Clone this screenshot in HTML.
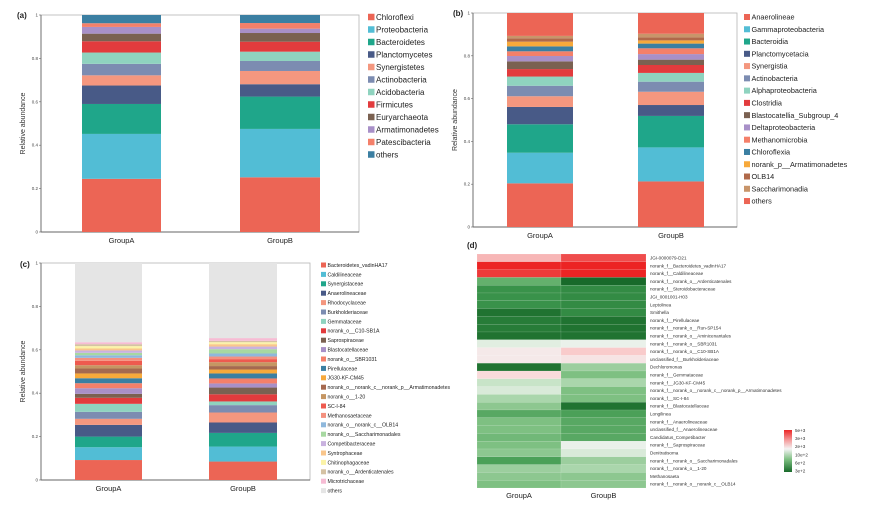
<!DOCTYPE html>
<html><head><meta charset="utf-8"><style>
html,body{margin:0;padding:0;background:#fff;}
svg{display:block;font-family:"Liberation Sans",Arial,sans-serif;}
</style></head><body>
<svg id="fig" width="886" height="507" viewBox="0 0 886 507"></svg>
<script>
// ---------- Panel (a) data ----------
const aCats = ["GroupA","GroupB"];
const aSeries = ["Chloroflexi","Proteobacteria","Bacteroidetes","Planctomycetes","Synergistetes","Actinobacteria","Acidobacteria","Firmicutes","Euryarchaeota","Armatimonadetes","Patescibacteria","others"];
const aValsA = [0.245,0.207,0.138,0.085,0.047,0.053,0.052,0.052,0.035,0.031,0.017,0.038];
const aValsB = [0.252,0.223,0.149,0.057,0.061,0.046,0.043,0.046,0.040,0.020,0.026,0.037];
const aColors = ["#ec6555","#52bdd5","#1fa68a","#485a87","#f4977f","#7c8cb1","#8fd3bf","#e23b3d","#7a6151","#a890c8","#f4806a","#3b7fa2"];
// ---------- Panel (b) data ----------
const bSeries = ["Anaerolineae","Gammaproteobacteria","Bacteroidia","Planctomycetacia","Synergistia","Actinobacteria","Alphaproteobacteria","Clostridia","Blastocatellia_Subgroup_4","Deltaproteobacteria","Methanomicrobia","Chloroflexia","norank_p__Armatimonadetes","OLB14","Saccharimonadia","others"];
const bValsA = [0.204,0.143,0.133,0.081,0.050,0.049,0.043,0.035,0.036,0.025,0.022,0.023,0.022,0.016,0.011,0.107];
const bValsB = [0.213,0.159,0.147,0.051,0.062,0.047,0.041,0.037,0.025,0.026,0.027,0.022,0.015,0.014,0.017,0.097];
const bColors = ["#ec6555","#52bdd5","#1fa68a","#485a87","#f4977f","#7c8cb1","#8fd3bf","#e23b3d","#7a6151","#a890c8","#f4806a","#3b7fa2","#f7a93b","#b0694a","#c8956a","#ec6555"];
// ---------- Panel (c) data ----------
const cSeries = ["Bacteroidetes_vadinHA17","Caldilineaceae","Synergistaceae","Anaerolineaceae","Rhodocyclaceae","Burkholderiaceae","Gemmataceae","norank_o__C10-SB1A","Saprospiraceae","Blastocatellaceae","norank_o__SBR1031","Pirellulaceae","JG30-KF-CM45","norank_o__norank_c__norank_p__Armatimonadetes","norank_o__1-20","SC-I-84","Methanosaetaceae","norank_o__norank_c__OLB14","norank_o__Saccharimonadales","Competibacteraceae","Syntrophaceae","Chitinophagaceae","norank_o__Ardenticatenales","Microtrichaceae","others"];
const cValsA = [0.092,0.059,0.049,0.054,0.028,0.032,0.037,0.028,0.018,0.026,0.023,0.023,0.022,0.023,0.015,0.020,0.014,0.012,0.011,0.011,0.009,0.011,0.009,0.009,0.365];
const cValsB = [0.085,0.069,0.063,0.048,0.046,0.034,0.017,0.033,0.031,0.019,0.023,0.023,0.018,0.016,0.018,0.014,0.012,0.014,0.020,0.012,0.011,0.009,0.006,0.013,0.346];
const cColors = ["#ec6555","#52bdd5","#1fa68a","#485a87","#f4977f","#7c8cb1","#8fd3bf","#e23b3d","#7a6151","#a890c8","#f4806a","#3b7fa2","#f7a93b","#a5694f","#c59663","#ee5a4f","#f4917f","#8fb8dc","#a7d8a1","#c9b2df","#f9c68c","#fbf3a8","#d5c2a3","#f6bcd4","#e5e5e5"];
// ---------- Panel (d) data ----------
const dRows = ["JGI-0000079-D21","norank_f__Bacteroidetes_vadinHA17","norank_f__Caldilineaceae","norank_f__norank_o__Ardenticatenales","norank_f__Steroidobacteraceae","JGI_0001001-H03","Leptolinea","Smithella","norank_f__Pirellulaceae","norank_f__norank_o__Run-SP154","norank_f__norank_o__Aminicenantales","norank_f__norank_o__SBR1031","norank_f__norank_o__C10-SB1A","unclassified_f__Burkholderiaceae","Dechloromonas","norank_f__Gemmataceae","norank_f__JG30-KF-CM45","norank_f__norank_o__norank_c__norank_p__Armatimonadetes","norank_f__SC-I-84","norank_f__Blastocatellaceae","Longilinea","norank_f__Anaerolineaceae","unclassified_f__Anaerolineaceae","Candidatus_Competibacter","norank_f__Saprospiraceae","Denitratisoma","norank_f__norank_o__Saccharimonadales","norank_f__norank_o__1-20","Methanosaeta","norank_f__norank_o__norank_c__OLB14"];
const dValsA = [0.45,1,0.92,-0.6,-0.78,-0.78,-0.78,-0.95,-0.9,-0.9,-0.95,-0.1,0.1,0.1,-0.95,0.25,-0.25,-0.15,-0.35,-0.45,-0.65,-0.5,-0.5,-0.55,-0.5,-0.45,-0.7,-0.4,-0.45,-0.5];
const dValsB = [0.85,1,1,-1,-0.82,-0.82,-0.82,-0.82,-0.95,-0.95,-0.95,-0.05,0.35,0.15,-0.4,-0.5,-0.35,-0.5,-0.5,-0.95,-0.7,-0.65,-0.65,-0.65,-0.05,-0.15,-0.4,-0.35,-0.45,-0.45];
const dTicks = ["5e+3","3e+3","2e+3","10e+2","6e+2","3e+2"];

const svg = document.getElementById('fig');
const NS = "http://www.w3.org/2000/svg";
function mk(tag, attrs, parent){const e=document.createElementNS(NS,tag);for(const k in attrs)e.setAttribute(k,attrs[k]);(parent||svg).appendChild(e);return e;}
function txt(s, attrs, parent){const e=mk('text',attrs,parent);e.textContent=s;return e;}

function stacked(cfg){
  const g = mk('g',{});
  
  
  const y = v => cfg.y0 - v*(cfg.y0-cfg.y1);
  const fr = mk('rect',{x:cfg.x0,y:cfg.y1,width:cfg.xr-cfg.x0,height:cfg.y0-cfg.y1,fill:'none',stroke:'#b5b5b5','stroke-width':0.8},g);
  
  
  const ax = mk('line',{x1:cfg.x0,y1:cfg.y1,x2:cfg.x0,y2:cfg.y0,stroke:'#666','stroke-width':0.9},g);
  
  
  const bx = mk('line',{x1:cfg.x0,y1:cfg.y0,x2:cfg.xr,y2:cfg.y0,stroke:'#666','stroke-width':0.9},g);
  
  
  [0,0.2,0.4,0.6,0.8,1].forEach(t=>{
    mk('line',{x1:cfg.x0-2,y1:y(t),x2:cfg.x0,y2:y(t),stroke:'#666','stroke-width':0.6},g);
    const tl = txt(String(t),{x:cfg.x0-3,y:y(t)+1.5,'font-size':4.5,'text-anchor':'end',fill:'#444'},g);
    
    
  });
  const yl = txt('Relative abundance',{x:0,y:0,'font-size':cfg.ylfs,fill:'#333','text-anchor':'middle',transform:`translate(${cfg.ylx},${(cfg.y0+cfg.y1)/2}) rotate(-90)`},g);
  
  
  const pl = txt(cfg.label,{x:cfg.lx,y:cfg.ly,'font-size':8,'font-weight':'bold',fill:'#222'},g);
  
  
  [cfg.valsA,cfg.valsB].forEach((vals,i)=>{
    let cum=0;
    vals.forEach((v,j)=>{
      const r = mk('rect',{x:cfg.bars[i][0],y:y(cum+v),width:cfg.bars[i][1]-cfg.bars[i][0],height:y(cum)-y(cum+v),fill:cfg.colors[j]},g);
      
      
      cum+=v;
    });
    const gl = txt(aCats[i],{x:(cfg.bars[i][0]+cfg.bars[i][1])/2,y:cfg.gly,'font-size':cfg.glfs,'text-anchor':'middle',fill:'#222'},g);
    
    
  });
  cfg.series.forEach((s,j)=>{
    const yy = cfg.legY + j*cfg.legDy;
    const sq = mk('rect',{x:cfg.legX,y:yy-cfg.sq/2,width:cfg.sq,height:cfg.sq,fill:cfg.colors[j]},g);
    
    
    const lt = txt(s,{x:cfg.legX+cfg.sq+1.5,y:yy+cfg.legFs*0.36,'font-size':cfg.legFs,fill:'#222'},g);
    
    
  });
}

stacked({name:'chart-a-phylum',label:'(a)',lx:17,ly:18,x0:41,xr:359,y0:232,y1:15,bars:[[82,161],[240,320]],
  valsA:aValsA,valsB:aValsB,series:aSeries,colors:aColors,ylfs:7,ylx:25,gly:243,glfs:7.5,
  legX:368,legY:17,legDy:12.5,sq:6.5,legFs:8});
stacked({name:'chart-b-class',label:'(b)',lx:453,ly:16,x0:473,xr:737,y0:227,y1:13,bars:[[507,573],[638,704]],
  valsA:bValsA,valsB:bValsB,series:bSeries,colors:bColors,ylfs:7,ylx:457,gly:238,glfs:7.5,
  legX:744,legY:17,legDy:12.27,sq:6,legFs:7.3});
stacked({name:'chart-c-family',label:'(c)',lx:20,ly:267,x0:41,xr:310,y0:480,y1:263,bars:[[75,142],[209,277]],
  valsA:cValsA,valsB:cValsB,series:cSeries,colors:cColors,ylfs:7,ylx:25,gly:491,glfs:7.5,
  legX:321,legY:265,legDy:9.4,sq:5,legFs:5.2});

// ---------- Heatmap ----------
const gStops = [[0,[242,244,242]],[0.25,[200,228,200]],[0.5,[126,192,130]],[0.75,[62,152,78]],[1,[24,106,42]]];
const rStops = [[0,[242,242,242]],[0.3,[250,214,214]],[0.55,[245,160,160]],[1,[236,36,36]]];
function interp(stops,t){
  for(let i=1;i<stops.length;i++){
    if(t<=stops[i][0]){const a=stops[i-1],b=stops[i];const f=(t-a[0])/(b[0]-a[0]);
      return 'rgb('+a[1].map((c,k)=>Math.round(c+(b[1][k]-c)*f)).join(',')+')';}
  }
  return 'rgb('+stops[stops.length-1][1].join(',')+')';
}
function hcol(v){const t=Math.min(1,Math.abs(v));return v>=0?interp(rStops,t):interp(gStops,t);}
const hg = mk('g',{});


const hx=[477,561,646], htop=254, hbot=488, rh=(hbot-htop)/dRows.length;
const dl = txt('(d)',{x:467,y:248,'font-size':8,'font-weight':'bold',fill:'#222'},hg);


dRows.forEach((name,i)=>{
  [dValsA[i],dValsB[i]].forEach((v,k)=>{
    const c = mk('rect',{x:hx[k],y:htop+i*rh,width:hx[k+1]-hx[k],height:rh,fill:hcol(v),stroke:'#fff','stroke-opacity':0.25,'stroke-width':0.4},hg);
    
    
  });
  const rl = txt(name,{x:650,y:htop+i*rh+rh/2+1.6,'font-size':4.6,fill:'#333'},hg);
  
  
});
aCats.forEach((c,k)=>{
  const gl = txt(c,{x:(hx[k]+hx[k+1])/2,y:498,'font-size':7.5,'text-anchor':'middle',fill:'#222'},hg);
  
  
});
const defs = mk('defs',{});
const lg = mk('linearGradient',{id:'cb',x1:0,y1:0,x2:0,y2:1},defs);
[[0,'#ec2626'],[0.25,'#f4a0a0'],[0.45,'#f4f4f4'],[0.7,'#7ec082'],[1,'#186a2a']].forEach(s=>mk('stop',{offset:s[0],'stop-color':s[1]},lg));
const cb = mk('rect',{x:784,y:430,width:8,height:42,fill:'url(#cb)'},hg);


dTicks.forEach((t,i)=>{
  const tl = txt(t,{x:795,y:432+i*8.1,'font-size':4.6,fill:'#333'},hg);
  
  
});
</script>
</body></html>
